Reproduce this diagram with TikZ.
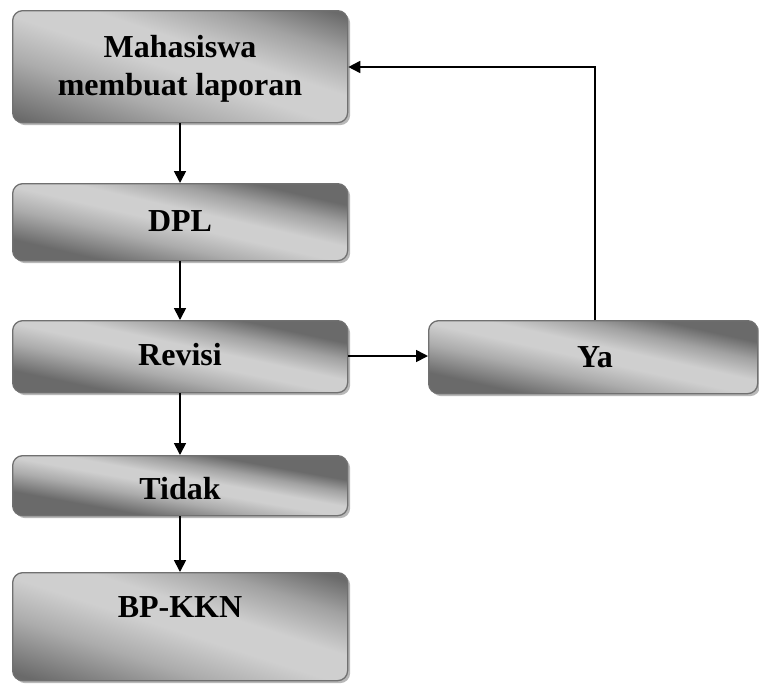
\documentclass[tikz,border=0pt]{standalone}
\usepackage{fontspec}
\setmainfont{Liberation Serif}
\usetikzlibrary{arrows.meta,shadows}
\definecolor{boxdark}{HTML}{6A6A6A}
\definecolor{boxlight}{HTML}{CFCFCF}
\definecolor{boxborder}{HTML}{707070}
% name, half-span f (percent of shading visible on each side of centre)
\newcommand\declboxshade[2]{%
  \pgfmathsetmacro\bxa{50-#2}%
  \pgfmathsetmacro\bxb{50-0.45*#2}%
  \pgfmathsetmacro\bxc{50-0.05*#2}%
  \pgfmathsetmacro\bxd{50+0.25*#2}%
  \pgfmathsetmacro\bxe{50+0.65*#2}%
  \pgfmathsetmacro\bxf{50+#2}%
  \edef\bxtmp{\noexpand\pgfdeclareverticalshading{#1}{100bp}{%
    color(0bp)=(boxdark); color(\bxa bp)=(boxdark); color(\bxb bp)=(boxdark!35!boxlight);
    color(\bxc bp)=(boxlight); color(\bxd bp)=(boxlight); color(\bxe bp)=(boxdark!45!boxlight);
    color(\bxf bp)=(boxdark); color(100bp)=(boxdark)}}%
  \bxtmp}
\declboxshade{shm}{30.07}
\declboxshade{shd}{21.83}
\declboxshade{shr}{20.54}
\declboxshade{shy}{21.15}
\declboxshade{sht}{17.35}
\declboxshade{shb}{29.20}
\tikzset{
  box/.style={draw=boxborder, line width=1.3pt, rounded corners=10pt,
    drop shadow={shadow xshift=2.5pt, shadow yshift=-2.5pt, fill=black!35, opacity=0.8},
    anchor=north west, minimum width=335pt, inner sep=0pt},
  boxsh/.style 2 args={shading=#1, shading angle=#2},
  lbl/.style={font=\fontsize{32}{38}\selectfont\bfseries, align=center},
  conn/.style={line width=1.7pt, -{Triangle[length=12pt,width=12pt]}}
}
\begin{document}
\begin{tikzpicture}[x=1pt,y=1pt]
\useasboundingbox (0,0) rectangle (759,-686);
\node[box, boxsh={shm}{-18.48}, minimum height=112pt] (m) at (12,-10) {};
\node[lbl] (mt) at (180,-69) {Mahasiswa\\membuat laporan};
\node[box, boxsh={shd}{-12.94}, minimum height=77pt] (d) at (12,-183) {};
\node[lbl] (dt) at (180,-221) {DPL};
\node[box, boxsh={shr}{-12.13}, minimum height=72pt] (r) at (12,-320) {};
\node[lbl] (rt) at (180,-355) {Revisi};
\node[box, boxsh={shy}{-12.51}, minimum height=73pt, minimum width=329pt] (y) at (428,-320) {};
\node[lbl] (yt) at (595,-357) {Ya};
\node[box, boxsh={sht}{-10.15}, minimum height=60pt] (t) at (12,-455) {};
\node[lbl] (tt) at (180,-489) {Tidak};
\node[box, boxsh={shb}{-17.87}, minimum height=108pt] (b) at (12,-572) {};
\node[lbl] (bt) at (180,-607) {BP-KKN};
\draw[conn] (m.south -| 180,0) -- (d.north -| 180,0);
\draw[conn] (d.south -| 180,0) -- (r.north -| 180,0);
\draw[conn] (r.south -| 180,0) -- (t.north -| 180,0);
\draw[conn] (t.south -| 180,0) -- (b.north -| 180,0);
\draw[conn] (r.east |- 0,-356) -- (y.west |- 0,-356);
\coordinate (c1) at (595,-67);
\draw[conn] (y.north -| 595,0) -- (c1) -- (m.east |- c1);
\end{tikzpicture}
\end{document}
